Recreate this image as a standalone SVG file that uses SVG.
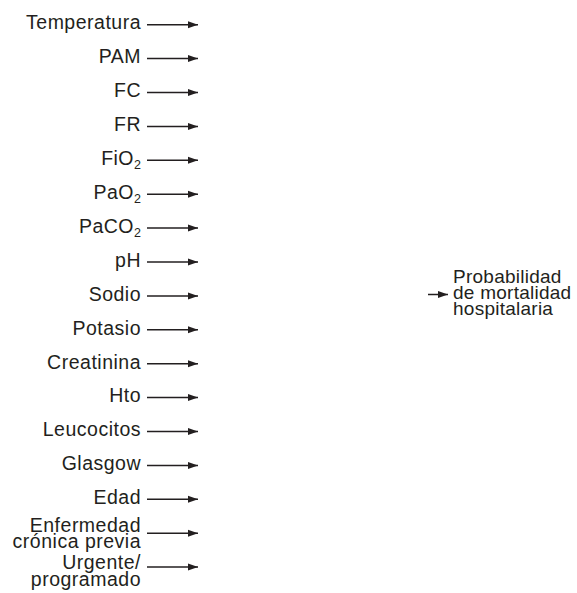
<svg xmlns="http://www.w3.org/2000/svg" width="577" height="593" viewBox="0 0 577 593">
<defs>
<marker id="ah" markerWidth="10" markerHeight="8" refX="10" refY="4" orient="auto" markerUnits="userSpaceOnUse">
<path d="M0,0.5 L10,4 L0,7.5 Z" fill="#231f20"/>
</marker>
</defs>
<style>
.t{font-family:"Liberation Sans",Arial,sans-serif;font-size:19.5px;fill:#231f20;letter-spacing:0.5px}
.r{text-anchor:end}
.p{font-size:19px;letter-spacing:0.25px}
.s{font-size:12.5px;letter-spacing:0}
.c{stroke:#231f20;stroke-width:1.5;fill:none;marker-end:url(#ah)}
</style>
<rect width="577" height="593" fill="#fff"/>
<g id="connectors">
<line class="c" x1="147" y1="24.7" x2="198" y2="24.7"/>
<line class="c" x1="147" y1="58.6" x2="198" y2="58.6"/>
<line class="c" x1="147" y1="92.5" x2="198" y2="92.5"/>
<line class="c" x1="147" y1="126.4" x2="198" y2="126.4"/>
<line class="c" x1="147" y1="160.3" x2="198" y2="160.3"/>
<line class="c" x1="147" y1="194.2" x2="198" y2="194.2"/>
<line class="c" x1="147" y1="228.1" x2="198" y2="228.1"/>
<line class="c" x1="147" y1="262" x2="198" y2="262"/>
<line class="c" x1="147" y1="295.9" x2="198" y2="295.9"/>
<line class="c" x1="147" y1="329.8" x2="198" y2="329.8"/>
<line class="c" x1="147" y1="363.7" x2="198" y2="363.7"/>
<line class="c" x1="147" y1="397.6" x2="198" y2="397.6"/>
<line class="c" x1="147" y1="431.5" x2="198" y2="431.5"/>
<line class="c" x1="147" y1="465.4" x2="198" y2="465.4"/>
<line class="c" x1="147" y1="499.3" x2="198" y2="499.3"/>
<line class="c" x1="147" y1="533.2" x2="198" y2="533.2"/>
<line class="c" x1="147" y1="567.1" x2="198" y2="567.1"/>
<line class="c" x1="428" y1="294.5" x2="448" y2="294.5"/>
</g>
<g id="n-temperatura"><text class="t r" x="141" y="29">Temperatura</text></g>
<g id="n-pam"><text class="t r" x="141" y="63">PAM</text></g>
<g id="n-fc"><text class="t r" x="141" y="97">FC</text></g>
<g id="n-fr"><text class="t r" x="141" y="131">FR</text></g>
<g id="n-fio2"><text class="t r" x="141" y="165">FiO<tspan class="s" dy="4">2</tspan></text></g>
<g id="n-pao2"><text class="t r" x="141" y="199">PaO<tspan class="s" dy="4">2</tspan></text></g>
<g id="n-paco2"><text class="t r" x="141" y="233">PaCO<tspan class="s" dy="4">2</tspan></text></g>
<g id="n-ph"><text class="t r" x="141" y="267">pH</text></g>
<g id="n-sodio"><text class="t r" x="141" y="300.5">Sodio</text></g>
<g id="n-potasio"><text class="t r" x="141" y="334.5">Potasio</text></g>
<g id="n-creatinina"><text class="t r" x="141" y="368.5">Creatinina</text></g>
<g id="n-hto"><text class="t r" x="141" y="402">Hto</text></g>
<g id="n-leucocitos"><text class="t r" x="141" y="436">Leucocitos</text></g>
<g id="n-glasgow"><text class="t r" x="141" y="470">Glasgow</text></g>
<g id="n-edad"><text class="t r" x="141" y="504">Edad</text></g>
<g id="n-enfermedad"><text class="t r" x="141" y="531.5">Enfermedad</text><text class="t r" x="141" y="548">crónica previa</text></g>
<g id="n-urgente"><text class="t r" x="141" y="569">Urgente/</text><text class="t r" x="141" y="585.5">programado</text></g>
<g id="n-probabilidad"><text class="t p" x="453" y="282.5">Probabilidad</text><text class="t p" x="453" y="298.5">de mortalidad</text><text class="t p" x="453" y="314.5">hospitalaria</text></g>
</svg>
